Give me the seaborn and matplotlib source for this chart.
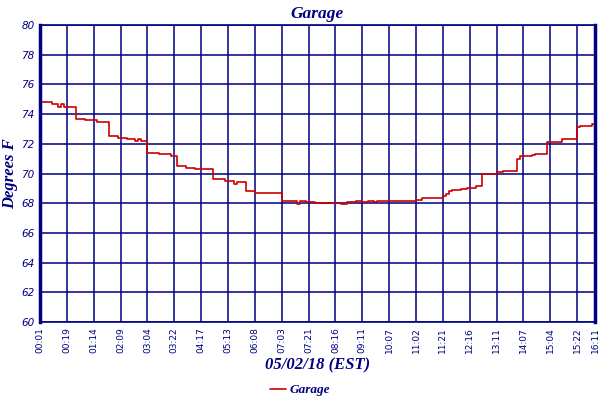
import matplotlib
matplotlib.use("Agg")
import matplotlib.pyplot as plt
import seaborn as sns
import pandas as pd

sensor_name = "Garage"
tick_labels = ["00:01", "00:19", "01:14", "02:09", "03:04", "03:22", "04:17", "05:13",
               "06:08", "07:03", "07:21", "08:16", "09:11", "10:07", "11:02", "11:21",
               "12:16", "13:11", "14:07", "15:04", "15:22", "16:11"]
tick_index = [0, 9, 18, 27, 36, 45, 54, 63, 72, 81, 90, 99, 108, 117, 126, 135,
              144, 153, 162, 171, 180, 186]
temps_f = [
    74.8, 74.8, 74.8, 74.8, 74.7, 74.7, 74.5, 74.7, 74.5, 74.5,
    74.5, 74.5, 73.7, 73.7, 73.7, 73.6, 73.6, 73.6, 73.6, 73.5,
    73.5, 73.5, 73.5, 72.5, 72.5, 72.5, 72.4, 72.4, 72.4, 72.3,
    72.3, 72.3, 72.2, 72.3, 72.2, 72.2, 71.4, 71.4, 71.4, 71.4,
    71.3, 71.3, 71.3, 71.3, 71.2, 71.2, 70.5, 70.5, 70.5, 70.4,
    70.4, 70.4, 70.3, 70.3, 70.3, 70.3, 70.3, 70.3, 69.6, 69.6,
    69.6, 69.6, 69.5, 69.5, 69.5, 69.3, 69.45, 69.45, 69.4, 68.8,
    68.8, 68.8, 68.7, 68.7, 68.7, 68.7, 68.7, 68.7, 68.7, 68.7,
    68.7, 68.15, 68.15, 68.15, 68.15, 68.15, 67.95, 68.13, 68.13, 68.05,
    68.05, 68.05, 68.0, 68.0, 68.0, 68.0, 68.0, 68.0, 68.0, 68.0,
    68.0, 67.95, 67.95, 68.07, 68.07, 68.07, 68.15, 68.15, 68.05, 68.05,
    68.15, 68.15, 68.05, 68.15, 68.15, 68.15, 68.15, 68.15, 68.15, 68.15,
    68.15, 68.15, 68.15, 68.15, 68.15, 68.15, 68.2, 68.2, 68.33, 68.33,
    68.33, 68.33, 68.33, 68.33, 68.33, 68.5, 68.6, 68.8, 68.9, 68.9,
    68.9, 68.93, 68.93, 69.0, 69.0, 69.0, 69.15, 69.15, 69.95, 70.0,
    70.0, 70.0, 70.0, 70.1, 70.1, 70.17, 70.17, 70.17, 70.17, 70.17,
    71.0, 71.18, 71.18, 71.18, 71.18, 71.25, 71.3, 71.3, 71.3, 71.3,
    72.1, 72.1, 72.1, 72.15, 72.15, 72.3, 72.3, 72.3, 72.3, 72.3,
    73.1, 73.2, 73.2, 73.2, 73.2, 73.33, 73.33,
]

df = pd.DataFrame({"idx": range(len(temps_f)), "temp": temps_f})

sns.set_style("white")
NAVY = "#000080"
RED = "#CC0000"

fig = plt.figure(figsize=(6, 4), dpi=100)
ax = fig.add_axes([40 / 600, 1 - 322 / 400, 555 / 600, 297 / 400])

sns.lineplot(data=df, x="idx", y="temp", ax=ax, color=RED, linewidth=1.2,
             drawstyle="steps-post", label=sensor_name, legend=False)

ax.set_xlim(0, len(temps_f) - 1)
ax.set_ylim(60, 80)
ax.set_yticks(range(60, 81, 2))
ax.set_xticks(tick_index)
ax.set_xticklabels(tick_labels, rotation=90, fontsize=6.5, color=NAVY,
                   family="DejaVu Sans")
for t in ax.get_yticklabels():
    t.set_fontsize(7.5)
    t.set_color(NAVY)
    t.set_style("italic")
ax.tick_params(axis="both", length=0, pad=4)
ax.grid(True, color=NAVY, linewidth=1.1)
ax.set_axisbelow(True)
for side, lw in (("left", 2.5), ("right", 2.5), ("bottom", 1.2), ("top", 1.2)):
    ax.spines[side].set_visible(True)
    ax.spines[side].set_color(NAVY)
    ax.spines[side].set_linewidth(lw)

ax.set_title(sensor_name, fontsize=12.5, fontweight="bold", fontstyle="italic",
             color=NAVY, family="Liberation Serif", pad=5)
ax.set_xlabel("05/02/18 (EST)", fontsize=12, fontweight="bold", fontstyle="italic",
              color=NAVY, family="Liberation Serif")
ax.xaxis.set_label_coords(0.5, -0.12)
ax.set_ylabel("Degrees F", fontsize=12, fontweight="bold", fontstyle="italic",
              color=NAVY, family="Liberation Serif")
ax.yaxis.set_label_coords(-0.04, 0.5)

handles, labels = ax.get_legend_handles_labels()
leg = fig.legend(handles, labels, loc="lower center", bbox_to_anchor=(0.5, -0.02),
                 frameon=False, handlelength=1.2, handletextpad=0.3,
                 prop={"family": "Liberation Serif", "weight": "bold",
                       "style": "italic", "size": 9.5})
for t in leg.get_texts():
    t.set_color(NAVY)

fig.savefig("out.png", dpi=100)
